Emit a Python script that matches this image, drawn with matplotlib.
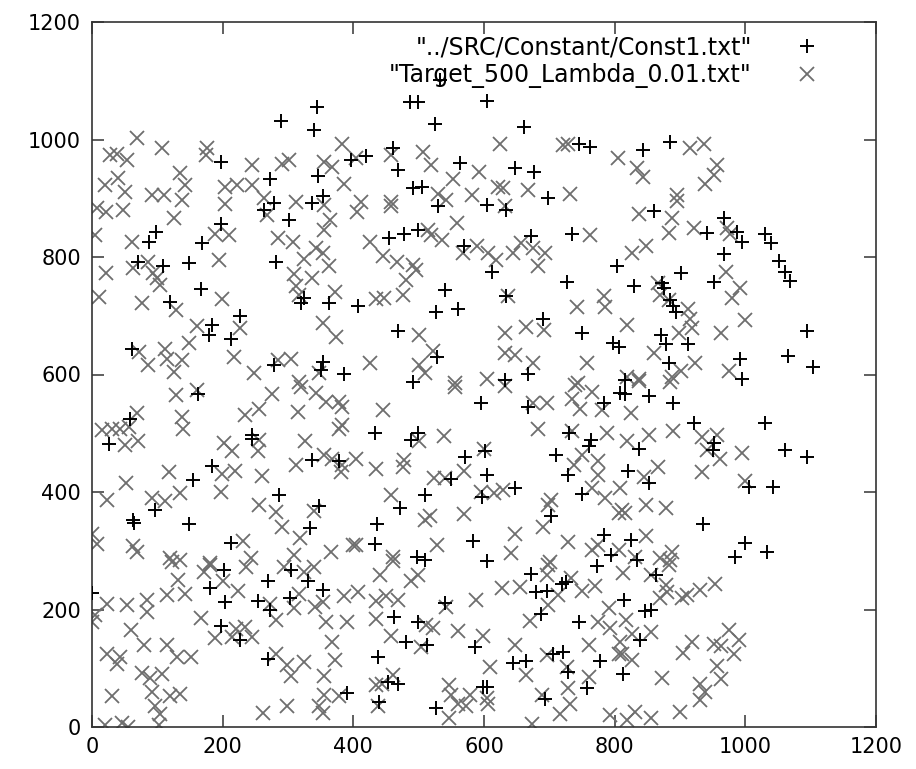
import matplotlib
matplotlib.use("Agg")
import matplotlib.pyplot as plt

series_names = ['"../SRC/Constant/Const1.txt"', '"Target_500_Lambda_0.01.txt"']
x_ticks = [0, 200, 400, 600, 800, 1000, 1200]
y_ticks = [0, 200, 400, 600, 800, 1000, 1200]

const_x = [345, 290, 340, 198, 272, 346, 353, 278, 337, 396,
           533, 486, 499, 604, 525, 661, 461, 419, 468, 563, 648, 677, 746, 762, 491, 505, 698, 604,
           844, 885,
           263, 197, 302, 98, 88, 169, 70, 108, 149, 281, 167, 120, 226, 184, 179, 213, 325, 320, 363, 61, 279, 353, 350, 386,
           530, 633, 455, 477, 499, 570, 672, 734, 612, 803, 727, 540, 633, 407, 527, 560, 468, 691, 750, 798, 528, 667, 632, 491,
           860, 968, 941, 988, 995, 1030, 1039, 967, 1052, 1061, 1069, 901, 952, 830, 872, 875, 885, 890, 894, 1094, 871, 878, 912, 806, 992, 1065, 1103, 883, 995, 816,
           163, 58, 26, 245, 245, 184, 154, 337, 378, 286, 348, 97, 63, 65, 149, 333, 213,
           595, 668, 783, 808, 433, 499, 489, 730, 764, 760, 602, 571, 710, 604, 729, 550, 647, 510, 597, 750, 471, 703, 436, 783, 433, 583, 498, 510, 604, 795,
           816, 853, 889, 921, 1030, 837, 952, 951, 1060, 1094, 820, 852, 1006, 1042, 935, 825, 1000, 1033, 984, 834,
           0, 202, 181, 204, 270, 304, 331, 353, 254, 272, 303, 197, 226, 270, 390,
           672, 773, 720, 725, 679, 696, 687, 745, 463, 499, 540, 481, 513, 586, 437, 645, 665, 706, 721, 778, 728, 453, 468, 440, 527, 599, 605, 693, 757,
           864, 815, 847, 855, 839, 813]
const_y = [1056, 1032, 1016, 962, 932, 938, 903, 892, 892, 965,
           1101, 1063, 1063, 1066, 1027, 1022, 985, 972, 948, 960, 951, 944, 993, 988, 917, 920, 900, 889,
           982, 996,
           880, 857, 863, 843, 826, 823, 792, 784, 789, 792, 745, 724, 700, 684, 667, 661, 730, 721, 721, 643, 616, 622, 608, 601,
           886, 880, 833, 840, 846, 818, 835, 840, 775, 784, 758, 744, 733, 717, 707, 711, 674, 694, 670, 653, 630, 601, 591, 588,
           879, 866, 841, 843, 826, 840, 823, 805, 793, 775, 760, 773, 758, 751, 755, 747, 727, 717, 707, 674, 667, 652, 652, 647, 627, 631, 613, 619, 593, 591,
           567, 524, 482, 497, 491, 444, 420, 454, 452, 395, 376, 370, 353, 347, 345, 339, 314,
           552, 544, 552, 569, 501, 501, 489, 501, 489, 478, 470, 460, 463, 429, 429, 422, 406, 395, 392, 397, 372, 359, 346, 327, 312, 317, 290, 285, 283, 293,
           567, 563, 552, 518, 517, 474, 483, 471, 472, 460, 436, 416, 408, 408, 346, 319, 314, 298, 290, 284,
           228, 267, 236, 212, 249, 268, 249, 233, 215, 200, 220, 172, 148, 115, 58,
           261, 274, 244, 246, 229, 232, 193, 178, 187, 178, 211, 145, 140, 136, 119, 109, 113, 124, 128, 113, 94, 77, 74, 43, 32, 68, 68, 47, 66,
           259, 216, 198, 200, 148, 90]

target_x = [69, 28, 38, 53, 107, 176, 174, 135, 143, 20, 40, 51, 92, 110, 204, 222, 245, 245, 291, 301, 355, 368, 383, 386, 263, 312, 138,
            404, 458, 506, 519, 624, 721, 729, 805, 553, 593, 622, 629, 668, 732, 529, 581, 542, 412, 458,
            834, 844, 916, 936, 957, 952, 939, 895,
            7, 22, 48, 204, 355, 268, 125, 365, 355, 5, 61, 189, 209, 285, 307, 343, 353, 325, 362, 309, 337, 312, 317, 372, 194, 86, 63, 94, 99, 104, 21, 11, 77, 128, 199, 161, 226, 148, 354, 374, 72, 112, 115, 138, 86, 125, 217, 248, 284, 304, 348, 317,
            406, 458, 632, 558, 514, 519, 535, 426, 445, 467, 491, 496, 481, 476, 435, 447, 568, 590, 606, 618, 645, 657, 675, 693, 683, 762, 637, 742, 783, 785, 632, 664, 692, 501, 522, 632, 647, 675, 757, 426, 501, 509, 604, 555, 744,
            837, 888, 883, 921, 972, 977, 826, 848, 867, 870, 883, 970, 992, 979, 913, 916, 918, 1000, 819, 898, 963, 860, 923, 975, 901, 888, 819, 837, 896,
            128, 161, 276, 320, 343, 358, 378, 383, 69, 15, 30, 43, 56, 51, 71, 138, 140, 234, 256, 316, 378, 383, 326, 202, 215, 256, 254, 313, 355, 368, 383, 381, 118, 199, 219, 260, 52, 135, 198, 23, 92, 111, 256, 281, 291, 318, 340, 0, 7, 63, 69, 231, 243, 120, 135, 181, 309, 366, 399,
            555, 632, 739, 765, 734, 747, 780, 675, 696, 446, 683, 734, 788, 539, 501, 600, 750, 737, 775, 775, 404, 435, 478, 476, 524, 540, 570, 596, 616, 629, 765, 785, 703, 698, 458, 517, 509, 570, 691, 647, 729, 765, 775, 806, 404, 528, 460, 642, 701,
            837, 885, 825, 819, 852, 889, 934, 957, 941, 961, 995, 867, 845, 934, 999, 808, 811, 816, 848, 878, 848, 806, 831, 870, 888, 885,
            122, 171, 181, 235, 294, 325, 340, 132, 142, 115, 200, 224, 84, 84, 53, 23, 4, 0, 60, 80, 115, 130, 152, 23, 43, 38, 167, 189, 220, 234, 245, 215, 281, 273, 309, 317, 341, 353, 358, 386, 391, 367, 372, 355, 281, 299, 304, 325, 76, 107, 89, 92, 120, 135, 97, 104, 103, 30, 20, 46, 55, 261, 299, 348, 353, 355, 378,
            460, 441, 488, 499, 407, 435, 450, 468, 435, 458, 504, 511, 522, 542, 560, 587, 599, 627, 655, 698, 696, 733, 750, 770, 714, 698, 670, 791, 775, 793, 647, 761, 696, 665, 609, 727, 761, 729, 806, 435, 444, 460, 437, 547, 550, 560, 573, 578, 547, 605, 606, 689, 732, 716, 673, 793,
            813, 855, 883, 878, 880, 869, 903, 911, 931, 954, 818, 826, 855, 808, 811, 826, 905, 918, 952, 962, 975, 990, 983, 956, 962, 931, 939, 931, 872, 900, 831, 819, 855]
target_y = [1002, 974, 976, 965, 985, 985, 974, 943, 922, 922, 934, 911, 906, 906, 920, 922, 922, 957, 959, 965, 962, 954, 993, 925, 900, 894, 897,
            968, 974, 979, 957, 993, 991, 993, 968, 932, 945, 920, 917, 914, 907, 908, 906, 897, 894, 894,
            951, 937, 985, 993, 957, 940, 925, 906,
            883, 876, 880, 890, 888, 871, 866, 863, 846, 837, 826, 840, 837, 832, 826, 815, 806, 796, 784, 771, 764, 751, 735, 741, 795, 792, 781, 772, 764, 752, 773, 732, 722, 710, 728, 683, 680, 654, 687, 664, 639, 644, 627, 625, 616, 605, 629, 603, 625, 627, 602, 588,
            877, 886, 886, 858, 846, 837, 829, 826, 802, 792, 786, 778, 761, 735, 729, 731, 807, 818, 807, 795, 807, 823, 815, 807, 784, 837, 733, 715, 733, 715, 671, 681, 676, 667, 640, 636, 633, 619, 619, 620, 616, 603, 593, 586, 586,
            873, 867, 841, 849, 849, 840, 807, 818, 755, 735, 727, 775, 748, 731, 712, 695, 680, 692, 684, 671, 670, 636, 620, 606, 606, 596, 596, 593, 896,
            565, 574, 567, 579, 568, 553, 553, 545, 535, 506, 508, 508, 511, 480, 486, 528, 508, 531, 541, 537, 507, 514, 486, 484, 469, 489, 470, 446, 463, 457, 446, 434, 434, 431, 436, 427, 415, 399, 400, 387, 389, 385, 378, 366, 341, 322, 368, 329, 312, 308, 298, 316, 287, 287, 284, 280, 293, 298, 310,
            579, 580, 582, 571, 558, 542, 540, 551, 551, 540, 507, 503, 500, 495, 486, 474, 463, 446, 452, 429, 456, 439, 454, 443, 423, 423, 435, 400, 398, 403, 406, 389, 386, 378, 395, 359, 352, 363, 341, 329, 315, 301, 310, 364, 310, 310, 290, 296, 281,
            589, 588, 535, 486, 497, 503, 493, 497, 471, 456, 467, 442, 426, 434, 418, 406, 369, 365, 378, 372, 325, 301, 290, 287, 298, 285,
            281, 264, 276, 272, 273, 264, 273, 250, 227, 225, 249, 232, 217, 196, 208, 209, 191, 179, 165, 140, 140, 119, 120, 125, 120, 108, 185, 151, 167, 171, 154, 154, 182, 210, 202, 227, 205, 213, 179, 223, 179, 144, 114, 86, 124, 106, 86, 111, 92, 91, 84, 60, 53, 56, 35, 22, 3, 53, 3, 6, 0, 23, 36, 35, 23, 54, 52,
            283, 259, 249, 259, 230, 215, 223, 216, 183, 155, 136, 174, 168, 205, 164, 216, 155, 236, 238, 276, 259, 253, 232, 240, 225, 208, 181, 202, 178, 168, 140, 140, 123, 89, 102, 102, 85, 66, 125, 71, 73, 89, 35, 71, 54, 40, 35, 54, 15, 50, 40, 54, 40, 22, 5, 20,
            262, 259, 276, 242, 229, 219, 219, 225, 234, 244, 182, 159, 162, 145, 125, 114, 126, 145, 142, 138, 165, 148, 125, 104, 81, 74, 60, 46, 83, 26, 26, 12, 15]

W, H = 916, 769
fig = plt.figure(figsize=(W / 100, H / 100), dpi=100)
ax = fig.add_axes([92 / W, 1 - 727 / H, (876 - 92) / W, (727 - 22) / H])

ax.plot(target_x, target_y, linestyle="none", marker="x", markersize=9.5,
        markeredgewidth=1.3, color="#6e6e6e", label=series_names[1], zorder=2)
ax.plot(const_x, const_y, linestyle="none", marker="+", markersize=9.5,
        markeredgewidth=1.4, color="black", label=series_names[0], zorder=3)

ax.set_xlim(0, 1200)
ax.set_ylim(0, 1200)
ax.set_xticks(x_ticks)
ax.set_yticks(y_ticks)
ax.set_xticklabels([str(t) for t in x_ticks])
ax.set_yticklabels([str(t) for t in y_ticks])
ax.tick_params(direction="in", length=8.5, width=1.2, colors="#444444",
               labelcolor="black", labelsize=15, top=True, right=True)
ax.tick_params(axis="x", pad=7)
ax.tick_params(axis="y", pad=8)
for s in ax.spines.values():
    s.set_linewidth(1.2)
    s.set_color("#333333")

handles, labels = ax.get_legend_handles_labels()
leg = ax.legend(handles[::-1], labels[::-1], loc="upper right",
                bbox_to_anchor=(0.951, 0.991), borderaxespad=0.0, frameon=False,
                markerfirst=False, fontsize=17, handlelength=2.0,
                handletextpad=1.33, labelspacing=0.15, borderpad=0.3)
for t in leg.get_texts():
    t.set_ha("right")

fig.savefig("out.png", dpi=100)
